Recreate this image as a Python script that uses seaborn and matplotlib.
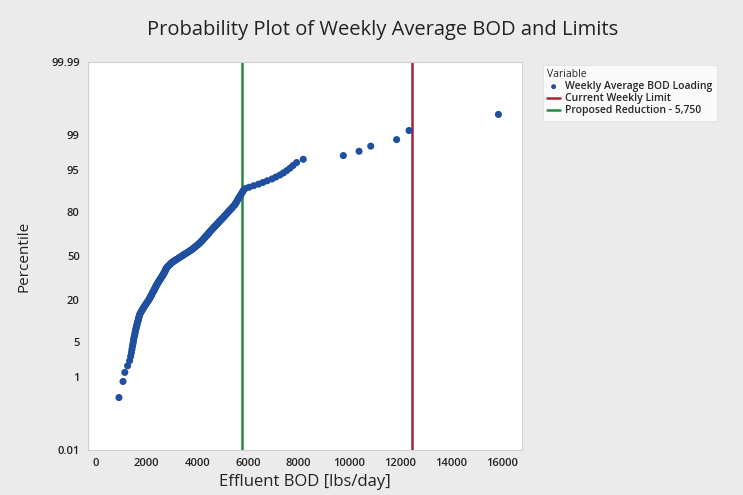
from statistics import NormalDist
import numpy as np
import pandas as pd
import matplotlib.pyplot as plt
import seaborn as sns

# sorted weekly average effluent BOD loading [lbs/day]
bod = [
    920, 1080, 1150, 1260, 1340, 1380, 1410,
    1430, 1450, 1470, 1490, 1500, 1520, 1540,
    1550, 1570, 1580, 1600, 1610, 1630, 1640, 1660, 1670, 1690, 1700, 1710, 1730, 1740,
    1760, 1790, 1810, 1840, 1860, 1890, 1910, 1940, 1960, 1990, 2010, 2040, 2060, 2090,
    2110, 2130, 2140, 2160, 2180, 2200, 2210, 2230, 2250, 2260, 2280, 2300, 2310, 2330,
    2340, 2360, 2370, 2390, 2400,
    2420, 2440, 2450, 2470, 2490, 2500, 2520, 2540, 2560, 2570, 2590, 2610, 2620, 2640, 2660,
    2670, 2690, 2700, 2710, 2730, 2740, 2750, 2760, 2780, 2790, 2800,
    2830, 2850, 2880, 2900, 2930, 2950, 2980, 3000,
    3040, 3080, 3110, 3150, 3190, 3230, 3270, 3300, 3340, 3380,
    3420, 3450, 3490, 3530, 3570, 3610, 3650, 3690, 3720, 3760, 3800,
    3830, 3860, 3890, 3920, 3950, 3980, 4010, 4040, 4070, 4100,
    4120, 4150, 4170, 4200, 4220, 4240, 4270, 4290, 4310, 4340, 4360, 4380, 4410, 4430,
    4450, 4480, 4500, 4520, 4550, 4570, 4600, 4620,
    4650, 4680, 4700, 4730, 4760, 4790, 4820, 4840, 4870, 4900,
    4930, 4960, 4990, 5020, 5050, 5080, 5110, 5140, 5170, 5200, 5230,
    5260, 5300, 5330, 5370, 5400, 5430, 5470, 5500,
    5520, 5550, 5570, 5600, 5620, 5650,
    5680, 5710, 5740, 5770, 5800, 5830,
    5890, 6050, 6230, 6420, 6590, 6760, 6950, 7100, 7260, 7400, 7530, 7660, 7780, 7920, 8180,
    9760, 10380, 10840, 11860, 12350, 15870,
]
current_limit = 12450
proposed_limit = 5750

y_ticks = [0.01, 1, 5, 20, 50, 80, 95, 99, 99.99]
x_ticks = [0, 2000, 4000, 6000, 8000, 10000, 12000, 14000, 16000]

BLUE = "#1f4f9f"
RED = "#a3262c"
GREEN = "#1e8c3a"
BG = "#ebebeb"

# median rank plotting positions (Benard), as in a normal probability plot
df = pd.DataFrame({"bod": bod})
df["rank"] = df["bod"].rank(method="first")
df["percentile"] = (df["rank"] - 0.3) / (len(df) + 0.4) * 100

_nd = NormalDist()


def to_z(p):
    p = np.clip(np.asarray(p, dtype=float) / 100, 1e-12, 1 - 1e-12)
    return np.vectorize(_nd.inv_cdf, otypes=[float])(p)


def from_z(z):
    return np.vectorize(_nd.cdf, otypes=[float])(np.asarray(z, dtype=float)) * 100


sns.set_style("white")
plt.rcParams["font.family"] = ["Open Sans", "DejaVu Sans"]

fig = plt.figure(figsize=(7.43, 4.95), dpi=100, facecolor=BG)
ax = fig.add_axes([88 / 743, 1 - 450 / 495, (522 - 88) / 743, (450 - 62) / 495])
ax.set_facecolor("white")

sns.scatterplot(data=df, x="bod", y="percentile", ax=ax, color=BLUE, s=26,
                edgecolor="none", label="Weekly Average BOD Loading", zorder=3)
ax.axvline(current_limit, color=RED, lw=1.8, label="Current Weekly Limit", zorder=2)
ax.axvline(proposed_limit, color=GREEN, lw=1.8, label="Proposed Reduction - 5,750", zorder=2)

ax.set_yscale("function", functions=(to_z, from_z))
ax.set_ylim(0.01, 99.99)
ax.set_xlim(-300, 16800)
ax.set_yticks(y_ticks)
ax.set_yticklabels([f"{t:g}" for t in y_ticks])
ax.set_xticks(x_ticks)
ax.set_xticklabels([str(t) for t in x_ticks])
ax.minorticks_off()
ax.tick_params(axis="both", labelsize=8, colors="#222222", length=3, width=0.6,
               color="#bbbbbb", pad=3)
for lab in ax.get_xticklabels() + ax.get_yticklabels():
    lab.set_fontweight("semibold")

for side in ax.spines.values():
    side.set_color("#d0d0d0")
    side.set_linewidth(0.8)

ax.set_xlabel("Effluent BOD [lbs/day]", fontsize=12, color="#222222", labelpad=3)
ax.set_ylabel("Percentile", fontsize=11, color="#222222", labelpad=14)

fig.text(0.515, 1 - 30 / 495, "Probability Plot of Weekly Average BOD and Limits",
         ha="center", va="center", fontsize=14.5, color="#222222")

leg = ax.legend(title="Variable", loc="upper left", bbox_to_anchor=(538 / 743, 1 - 60 / 495),
                bbox_transform=fig.transFigure, fontsize=7.5, title_fontsize=7.5,
                frameon=True, fancybox=False, borderpad=0.4, labelspacing=0.1,
                handlelength=1.2, handletextpad=0.5, markerscale=0.7,
                prop={"size": 7.5, "weight": "semibold"})
leg.get_frame().set_edgecolor("#dddddd")
leg.get_frame().set_linewidth(0.6)
leg._legend_box.align = "left"

fig.savefig("out.png", dpi=100, facecolor=BG)
